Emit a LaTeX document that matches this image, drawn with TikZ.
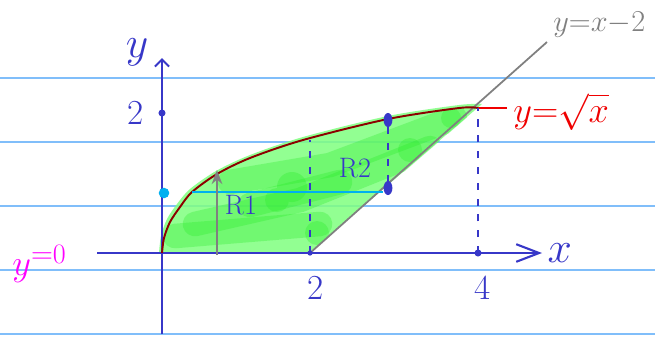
\documentclass[tikz,border=0pt]{standalone}
\usepackage{amsmath}
\usetikzlibrary{arrows.meta,positioning,shapes.geometric}
\definecolor{paperblue}{RGB}{128,190,250}
\definecolor{inkblue}{RGB}{55,55,200}
\definecolor{inkcyan}{RGB}{0,176,240}
\definecolor{inkred}{RGB}{240,0,0}
\definecolor{inkdark}{RGB}{140,0,0}
\definecolor{inkgray}{RGB}{128,128,128}
\definecolor{inkmagenta}{RGB}{255,0,255}
\definecolor{hlgreen}{RGB}{128,255,128}
\definecolor{hldark}{RGB}{40,235,40}

\begin{document}
\begin{tikzpicture}[
        x=0.02cm, y=-0.02cm,
        paper/.style={paperblue, line width=1.2pt},
        axis/.style={inkblue, line width=1.2pt},
        guide/.style={inkblue, line width=1pt, dash pattern=on 4pt off 5pt},
        blob/.style={hldark, opacity=0.3, line width=14pt, line cap=round},
        ink/.style={inner sep=0pt, font=\fontsize{20}{20}\selectfont},
        dot/.style={circle, fill, inner sep=0pt, minimum size=5pt},
        oval/.style={ellipse, fill, inner sep=0pt, minimum width=5pt, minimum height=8pt}
    ]
        \useasboundingbox (0,0) rectangle (655,336);
        \fill[white] (0,0) rectangle (655,336);

        % Paper lines
        \foreach \yy in {78,142,206,270,334}
            \draw[paper] (0,\yy) -- (655,\yy);

        % Points
        \coordinate (O) at (162,253);
        \coordinate (xstart) at (97,253);
        \coordinate (xend) at (542,253);
        \coordinate (ybot) at (162,334);
        \coordinate (ytop) at (162,58);
        \coordinate (two) at (310,253);
        \coordinate (four) at (478,253);
        \coordinate (top) at (478,108);
        \coordinate (lineend) at (547,42);
        \coordinate (redend) at (507,108);

        % Region
        \fill[hlgreen, fill opacity=0.85]
            plot[smooth] coordinates {(159,253) (161,236) (167,219) (177,204) (190,189)
            (216,171) (250,155) (303,137) (388,116) (459,105) (482,104)}
            -- (310,252) -- cycle;
        \begin{scope}
            \clip plot[smooth] coordinates {(162,253) (164,238) (170,222) (180,207) (192,192)
                (217,174) (250,158) (303,140) (388,119) (459,108) (478,108)}
                -- (310,253) -- cycle;
            \draw[blob] (175,236) -- (320,224);
            \draw[blob] (195,224) -- (300,200) -- (430,148);
            \draw[blob] (230,182) -- (330,165) -- (455,118);
            \draw[blob] (250,205) -- (340,182);
            \fill[hldark, opacity=0.3] (317,233) circle (12) (292,187) circle (15)
                (410,150) circle (12) (451,118) circle (10) (277,200) circle (12);
        \end{scope}

        % Axes
        \draw[axis, -{Straight Barb[length=13pt, width=10pt]}] (xstart) -- (xend);
        \draw[axis, -{Straight Barb[length=4pt, width=8pt]}] (ybot) -- (ytop);

        % Curves
        \draw[inkgray, line width=1pt] (two) -- (lineend);
        \draw[inkdark, line width=1.1pt]
            plot[smooth] coordinates {(162,253) (164,238) (170,222) (180,207) (192,192)
            (217,174) (250,158) (303,140) (388,119) (459,108) (478,108)};
        \draw[inkred, line width=1.1pt] (top) -- (redend);

        % Guides
        \draw[guide] (two) -- (310,140);
        \draw[guide] (four) -- (top);
        \node[oval, inkblue] (p) at (388,120) {};
        \node[oval, inkblue] (q) at (388,188) {};
        \draw[guide] (p) -- (q);

        % Radii
        \coordinate (c) at (192,192);
        \node[dot, inkcyan, minimum size=6pt] (yc) at (164,193) {};
        \draw[inkcyan, line width=1.2pt] (c) -- (c -| q.west);
        \coordinate (r1bot) at (217,255);
        \coordinate (r1top) at (217,170);
        \draw[inkgray, line width=1.6pt, -{Stealth[length=8pt, width=6pt]}] (r1bot) -- (r1top);

        % Ticks
        \node[dot, inkblue, minimum size=4pt] (t2) at (162,113) {};
        \node[dot, inkblue, minimum size=3pt] at (two) {};
        \node[dot, inkblue, minimum size=4pt] at (four) {};

        % Labels
        \node[ink, inkblue, font=\fontsize{24}{24}\selectfont] (ylab) at (137,52) {$y$};
        \node[ink, inkblue, left=8pt of t2] (ytick) {2};
        \node[ink, inkblue] (xtick2) at (316,288) {2};
        \node[ink, inkblue] (xtick4) at (483,288) {4};
        \node[ink, inkblue, right=3pt of xend, font=\fontsize{24}{24}\selectfont] (xlab) {$x$};
        \node[ink, inkblue, font=\fontsize{16}{16}\selectfont] (r1) at (241,205) {R1};
        \node[ink, inkblue, font=\fontsize{16}{16}\selectfont] (r2) at (355,168) {R2};
        \node[ink, inkred, anchor=west, font=\fontsize{20}{20}\selectfont] (sq) at (513,112) {$y{=}\sqrt{x}$};
        \node[ink, inkgray, anchor=west, font=\fontsize{18}{18}\selectfont] (ln) at (553,25) {$y{=}x{-}2$};
        \node[ink, inkmagenta, anchor=west] (y0) at (12,264)
            {$\fontsize{32}{32}\selectfont y$\raisebox{7pt}{\fontsize{16}{16}\selectfont$=$0}};
\end{tikzpicture}
\end{document}
